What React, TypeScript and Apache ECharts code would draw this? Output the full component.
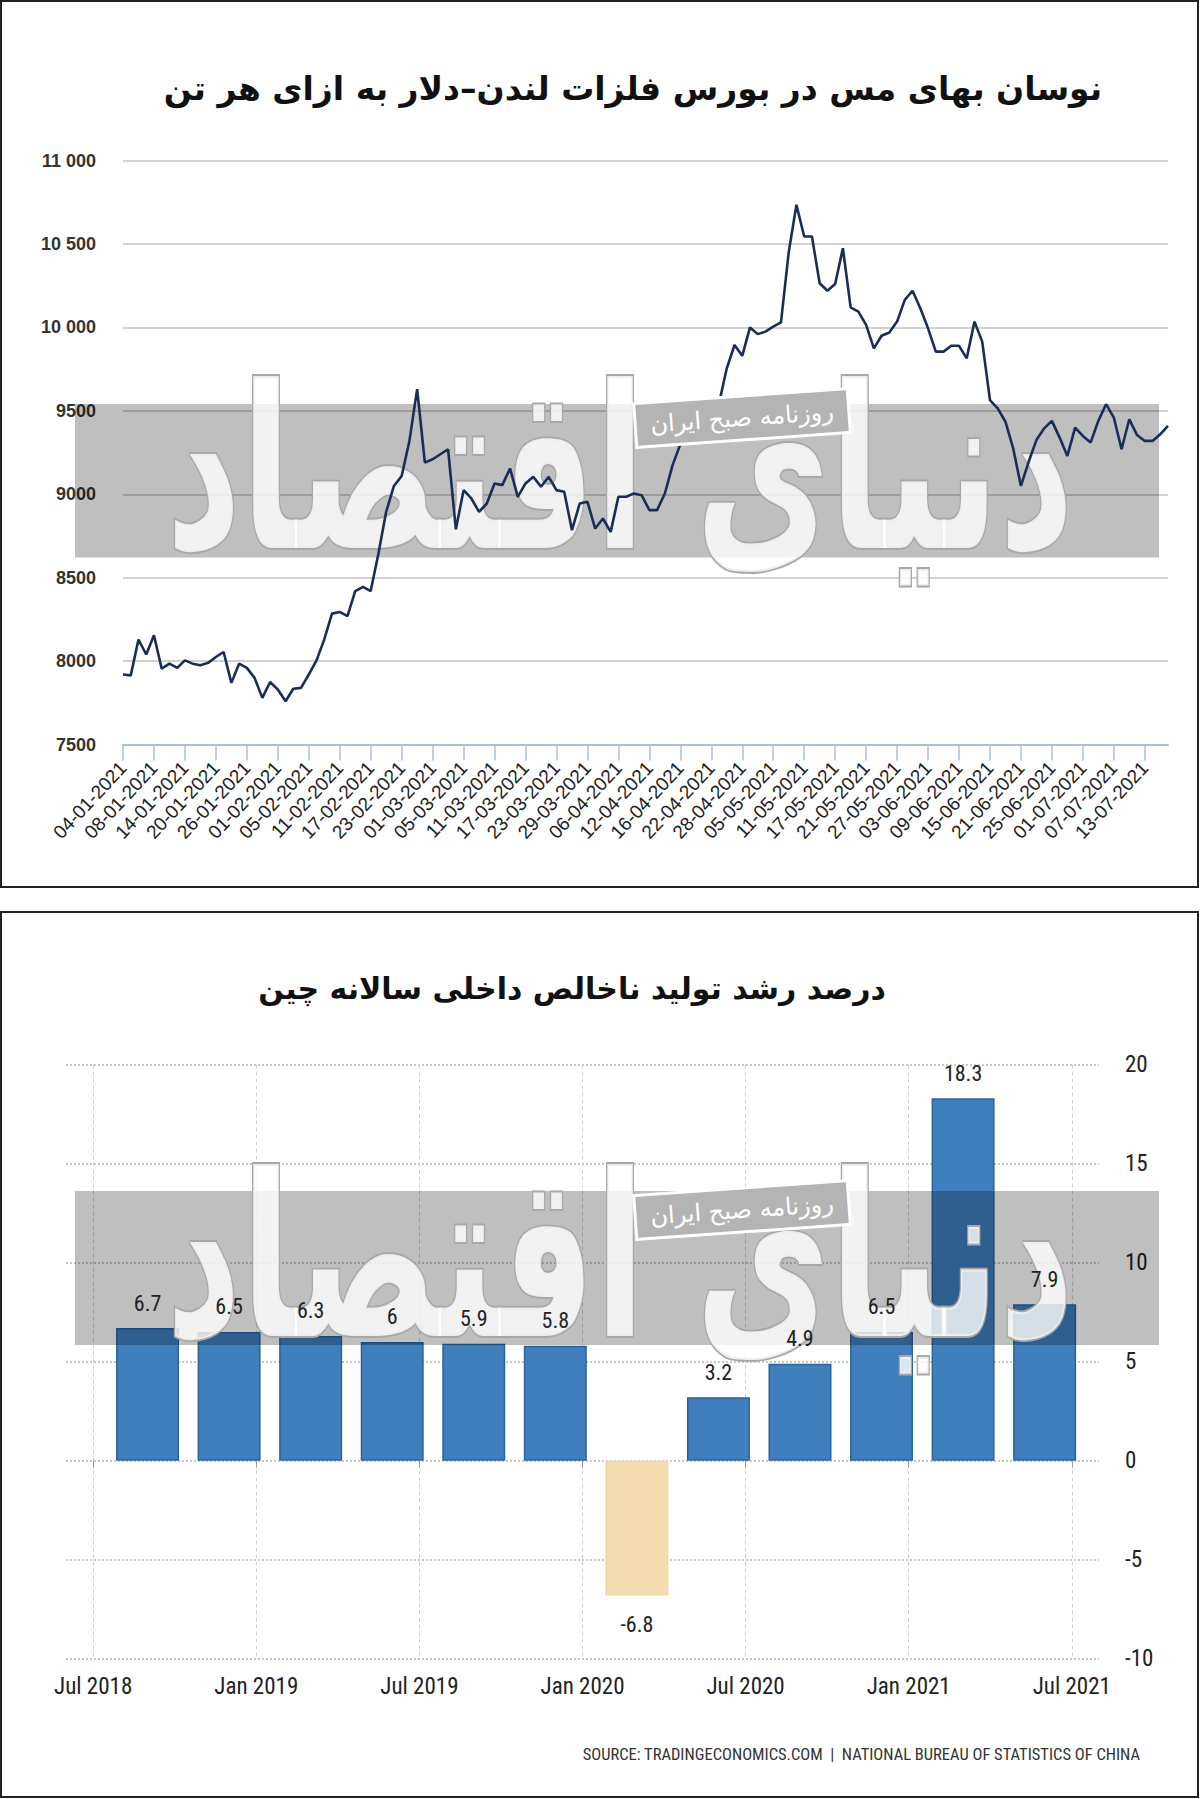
import React, { useEffect, useRef } from "react";
import * as echarts from "echarts";

// ---------- Chart 1: LME copper price (USD per tonne) ----------
const copperTitle = "نوسان بهای مس در بورس فلزات لندن–دلار به ازای هر تن";

const copperDates = [
  "04-01-2021", "05-01-2021", "06-01-2021", "07-01-2021", "08-01-2021", "11-01-2021", "12-01-2021", "13-01-2021", "14-01-2021", "15-01-2021",
  "18-01-2021", "19-01-2021", "20-01-2021", "21-01-2021", "22-01-2021", "25-01-2021", "26-01-2021", "27-01-2021", "28-01-2021", "29-01-2021",
  "01-02-2021", "02-02-2021", "03-02-2021", "04-02-2021", "05-02-2021", "08-02-2021", "09-02-2021", "10-02-2021", "11-02-2021", "12-02-2021",
  "15-02-2021", "16-02-2021", "17-02-2021", "18-02-2021", "19-02-2021", "22-02-2021", "23-02-2021", "24-02-2021", "25-02-2021", "26-02-2021",
  "01-03-2021", "02-03-2021", "03-03-2021", "04-03-2021", "05-03-2021", "08-03-2021", "09-03-2021", "10-03-2021", "11-03-2021", "12-03-2021",
  "15-03-2021", "16-03-2021", "17-03-2021", "18-03-2021", "19-03-2021", "22-03-2021", "23-03-2021", "24-03-2021", "25-03-2021", "26-03-2021",
  "29-03-2021", "30-03-2021", "31-03-2021", "01-04-2021", "06-04-2021", "07-04-2021", "08-04-2021", "09-04-2021", "12-04-2021", "13-04-2021",
  "14-04-2021", "15-04-2021", "16-04-2021", "19-04-2021", "20-04-2021", "21-04-2021", "22-04-2021", "23-04-2021", "26-04-2021", "27-04-2021",
  "28-04-2021", "29-04-2021", "30-04-2021", "04-05-2021", "05-05-2021", "06-05-2021", "07-05-2021", "10-05-2021", "11-05-2021", "12-05-2021",
  "13-05-2021", "14-05-2021", "17-05-2021", "18-05-2021", "19-05-2021", "20-05-2021", "21-05-2021", "24-05-2021", "25-05-2021", "26-05-2021",
  "27-05-2021", "28-05-2021", "01-06-2021", "02-06-2021", "03-06-2021", "04-06-2021", "07-06-2021", "08-06-2021", "09-06-2021", "10-06-2021",
  "11-06-2021", "14-06-2021", "15-06-2021", "16-06-2021", "17-06-2021", "18-06-2021", "21-06-2021", "22-06-2021", "23-06-2021", "24-06-2021",
  "25-06-2021", "28-06-2021", "29-06-2021", "30-06-2021", "01-07-2021", "02-07-2021", "05-07-2021", "06-07-2021", "07-07-2021", "08-07-2021",
  "09-07-2021", "12-07-2021", "13-07-2021", "14-07-2021", "15-07-2021", "16-07-2021",
];

const copperPrices = [
  7920, 7915, 8130, 8040, 8155, 7955, 7985, 7960, 8005, 7985,
  7975, 7990, 8025, 8055, 7870, 7985, 7960, 7900, 7780, 7875,
  7830, 7760, 7835, 7840, 7920, 8005, 8130, 8285, 8295, 8270,
  8420, 8445, 8420, 8645, 8895, 9050, 9110, 9320, 9630, 9190,
  9210, 9240, 9270, 8790, 9025, 8975, 8895, 8945, 9065, 9055,
  9155, 8985, 9065, 9105, 9045, 9105, 9025, 9015, 8785, 8945,
  8955, 8795, 8855, 8775, 8985, 8985, 9005, 8995, 8905, 8905,
  9005, 9175, 9300, 9410, 9390, 9440, 9495, 9545, 9755, 9895,
  9830, 10000, 9960, 9975, 10005, 10030, 10450, 10735, 10545, 10545,
  10265, 10220, 10260, 10475, 10120, 10095, 10015, 9875, 9950, 9970,
  10035, 10165, 10220, 10115, 9995, 9855, 9855, 9890, 9890, 9815,
  10035, 9915, 9565, 9515, 9435, 9275, 9050, 9195, 9325, 9395,
  9440, 9340, 9230, 9400, 9350, 9310, 9440, 9540, 9460, 9270,
  9450, 9355, 9320, 9320, 9360, 9410,
];

const copperMin = 7500;
const copperMax = 11000;
const copperStep = 500;

// ---------- Chart 2: China annual GDP growth (%) ----------
const gdpTitle = "درصد رشد تولید ناخالص داخلی سالانه چین";
const gdpSource = "SOURCE: TRADINGECONOMICS.COM  |  NATIONAL BUREAU OF STATISTICS OF CHINA";

const gdpMonths = [
  "Jun 2018", "Jul 2018", "Aug 2018", "Sep 2018", "Oct 2018", "Nov 2018", "Dec 2018",
  "Jan 2019", "Feb 2019", "Mar 2019", "Apr 2019", "May 2019", "Jun 2019", "Jul 2019", "Aug 2019", "Sep 2019", "Oct 2019", "Nov 2019", "Dec 2019",
  "Jan 2020", "Feb 2020", "Mar 2020", "Apr 2020", "May 2020", "Jun 2020", "Jul 2020", "Aug 2020", "Sep 2020", "Oct 2020", "Nov 2020", "Dec 2020",
  "Jan 2021", "Feb 2021", "Mar 2021", "Apr 2021", "May 2021", "Jun 2021", "Jul 2021", "Aug 2021",
];
const gdpQuarterMonths = [
  "Sep 2018", "Dec 2018", "Mar 2019", "Jun 2019", "Sep 2019", "Dec 2019",
  "Mar 2020", "Jun 2020", "Sep 2020", "Dec 2020", "Mar 2021", "Jun 2021",
];
const gdpGrowth = [6.7, 6.5, 6.3, 6, 5.9, 5.8, -6.8, 3.2, 4.9, 6.5, 18.3, 7.9];

const watermarkText = "دنیای اقتصاد";
const stampText = "روزنامه صبح ایران";

const NARROW = "'Liberation Sans Narrow', 'Arial Narrow', 'Roboto Condensed', 'Liberation Sans', Arial, sans-serif";
const PERSIAN = "'DejaVu Sans', 'Noto Sans', sans-serif";

const isHalfYear = (_i: number, v: string) => v.startsWith("Jan") || v.startsWith("Jul");

const formatCopper = (v: number) => {
  if (v >= 10000) {
    const th = Math.floor(v / 1000);
    const rest = String(v % 1000).padStart(3, "0");
    return th + " " + rest;
  }
  return String(v);
};

function buildGdpBars() {
  return gdpMonths.map((m) => {
    const k = gdpQuarterMonths.indexOf(m);
    if (k < 0) return "-";
    const v = gdpGrowth[k];
    if (v < 0) {
      return { value: v, itemStyle: { color: "#f3ddb0", borderColor: "#efd7a6" } };
    }
    return v;
  });
}

function buildGdpLabels() {
  return gdpMonths.map((m) => {
    const k = gdpQuarterMonths.indexOf(m);
    if (k < 0) return "-";
    const v = gdpGrowth[k];
    if (v < 0) {
      return { value: v, label: { position: "bottom", distance: 18 } };
    }
    return v;
  });
}

function stamp(cx: number, cy: number) {
  return {
    type: "group",
    x: cx,
    y: cy,
    rotation: 0.07,
    children: [
      {
        type: "rect",
        z: 6,
        shape: { x: -107, y: -22, width: 214, height: 44 },
        style: { fill: "#b4b4b4", stroke: "#ffffff", lineWidth: 3 },
      },
      {
        type: "text",
        z: 7,
        style: {
          text: stampText,
          fontSize: 24,
          fontFamily: PERSIAN,
          fill: "#ffffff",
          textAlign: "center",
          verticalAlign: "middle",
        },
      },
    ],
  };
}

function watermark(cx: number, cy: number) {
  return {
    type: "text",
    x: cx,
    y: cy,
    z: 4,
    scaleY: 1.55,
    silent: true,
    style: {
      text: watermarkText,
      fontSize: 146,
      fontFamily: PERSIAN,
      fontWeight: "bold",
      fill: "rgba(255,255,255,0.8)",
      stroke: "#a8a8a8",
      lineWidth: 2.5,
      textAlign: "center",
      verticalAlign: "middle",
    },
  };
}

function buildOption() {
  return {
    animation: false,
    backgroundColor: "#ffffff",
    grid: [
      { left: 123, top: 160.6, width: 1045, height: 584 },
      { left: 66, top: 1064.5, width: 1033, height: 594.4 },
    ],
    xAxis: [
      {
        type: "category",
        gridIndex: 0,
        data: copperDates,
        boundaryGap: false,
        axisLine: { lineStyle: { color: "#a8c0dc", width: 2 } },
        axisTick: { interval: 3, length: 16, lineStyle: { color: "#a8c0dc", width: 1.5 } },
        axisLabel: {
          interval: 3,
          rotate: 47,
          fontSize: 19,
          color: "#222",
          margin: 20,
          fontFamily: "'Liberation Sans', Arial, sans-serif",
        },
        splitLine: { show: false },
      },
      {
        type: "category",
        gridIndex: 1,
        data: gdpMonths,
        boundaryGap: false,
        axisLine: { show: false },
        axisTick: { show: true, interval: isHalfYear, length: 7, lineStyle: { color: "#999" } },
        axisLabel: { interval: isHalfYear, fontSize: 23, color: "#222", margin: 16, fontFamily: NARROW },
        splitLine: { show: true, interval: isHalfYear, lineStyle: { color: "#cfcfcf", type: [4, 3], width: 1 } },
      },
    ],
    yAxis: [
      {
        type: "value",
        gridIndex: 0,
        min: copperMin,
        max: copperMax,
        interval: copperStep,
        axisLine: { show: false },
        axisTick: { show: false },
        axisLabel: {
          formatter: formatCopper,
          fontSize: 18,
          fontWeight: "bold",
          color: "#333",
          margin: 27,
          fontFamily: "'Liberation Sans', Arial, sans-serif",
        },
        splitLine: { lineStyle: { color: "#d2d2d2", width: 2 } },
      },
      {
        type: "value",
        gridIndex: 1,
        position: "right",
        min: -10,
        max: 20,
        interval: 5,
        axisLine: { show: false },
        axisTick: { show: false },
        axisLabel: { fontSize: 23, color: "#222", margin: 26, fontFamily: NARROW },
        splitLine: { lineStyle: { color: "#c8c8c8", width: 2, type: "dotted" } },
      },
    ],
    series: [
      {
        type: "line",
        xAxisIndex: 0,
        yAxisIndex: 0,
        data: copperPrices,
        showSymbol: false,
        symbol: "none",
        lineStyle: { color: "#1a2d58", width: 2.6 },
        z: 5,
      },
      {
        type: "bar",
        xAxisIndex: 1,
        yAxisIndex: 1,
        data: buildGdpBars(),
        barWidth: 63,
        itemStyle: { color: "#3f7fbe", borderColor: "#2d629a", borderWidth: 1.5 },
        label: { show: false },
        z: 2,
      },
      {
        type: "bar",
        xAxisIndex: 1,
        yAxisIndex: 1,
        data: buildGdpLabels(),
        barWidth: 63,
        barGap: "-100%",
        silent: true,
        itemStyle: { color: "rgba(0,0,0,0)", borderWidth: 0 },
        label: {
          show: true,
          position: "top",
          distance: 14,
          fontSize: 22,
          color: "#222",
          fontFamily: NARROW,
        },
        z: 8,
      },
    ],
    graphic: {
      elements: [
        // frames
        {
          type: "rect",
          z: 20,
          shape: { x: 1, y: 1, width: 1197, height: 886 },
          style: { fill: "none", stroke: "#222", lineWidth: 2 },
        },
        {
          type: "rect",
          z: 20,
          shape: { x: 1, y: 912, width: 1197, height: 885 },
          style: { fill: "none", stroke: "#222", lineWidth: 2 },
        },
        // titles
        {
          type: "text",
          x: 633,
          y: 88,
          z: 10,
          style: {
            text: copperTitle,
            fontSize: 33,
            fontWeight: "bold",
            fontFamily: PERSIAN,
            fill: "#111",
            textAlign: "center",
            verticalAlign: "middle",
          },
        },
        {
          type: "text",
          x: 572,
          y: 988,
          z: 10,
          style: {
            text: gdpTitle,
            fontSize: 30,
            fontWeight: "bold",
            fontFamily: PERSIAN,
            fill: "#111",
            textAlign: "center",
            verticalAlign: "middle",
          },
        },
        // source
        {
          type: "text",
          x: 1140,
          y: 1754,
          z: 10,
          style: {
            text: gdpSource,
            fontSize: 16.5,
            fontFamily: NARROW,
            fill: "#333",
            textAlign: "right",
            verticalAlign: "middle",
          },
        },
        // grey bands
        {
          type: "rect",
          z: 3,
          silent: true,
          shape: { x: 75, y: 404, width: 1084, height: 153.5 },
          style: { fill: "rgba(0,0,0,0.25)" },
        },
        {
          type: "rect",
          z: 3,
          silent: true,
          shape: { x: 75, y: 1191, width: 1084, height: 154 },
          style: { fill: "rgba(0,0,0,0.25)" },
        },
        watermark(620, 470),
        watermark(620, 1258),
        stamp(742, 418),
        stamp(742, 1210),
      ],
    },
  };
}

export default function App() {
  const ref = useRef<HTMLDivElement>(null);
  useEffect(() => {
    if (!ref.current) return;
    const chart = echarts.init(ref.current, undefined, { renderer: "svg" });
    chart.setOption(buildOption() as any);
    return () => chart.dispose();
  }, []);
  return (
    <div
      ref={ref}
      style={{ position: "absolute", left: 0, top: 0, width: 1200, height: 1799, background: "#fff" }}
    />
  );
}
